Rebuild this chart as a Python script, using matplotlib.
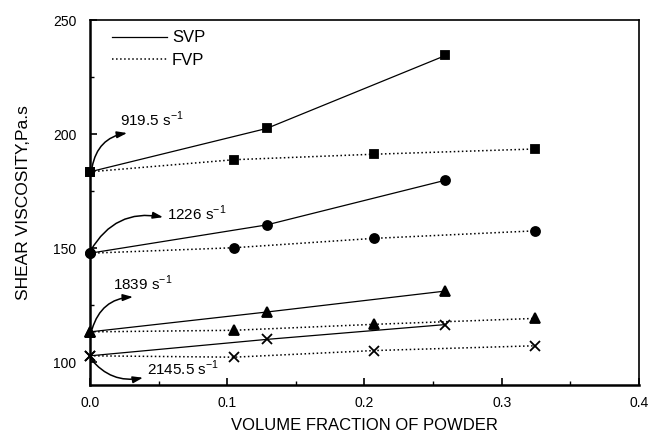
import matplotlib
matplotlib.use("Agg")
import matplotlib.pyplot as plt
from matplotlib.ticker import MultipleLocator
from matplotlib.lines import Line2D

plt.rcParams['font.family'] = ['Liberation Sans', 'DejaVu Sans']

# Data
x_svp = [0.0, 0.1287, 0.259]
x_fvp = [0.0, 0.105, 0.2067, 0.3242]

svp_919 = [183.5, 202.5, 234.5]
fvp_919 = [183.5, 188.8, 191.2, 193.5]
svp_1226 = [147.8, 160.2, 179.8]
fvp_1226 = [147.8, 150.2, 154.3, 157.6]
svp_1839 = [113.3, 122.0, 131.2]
fvp_1839 = [113.3, 114.0, 116.6, 119.2]
svp_2145 = [102.8, 110.0, 116.5]
fvp_2145 = [102.8, 102.2, 105.1, 107.2]

series = [
    (svp_919, fvp_919, 's', 5.8),
    (svp_1226, fvp_1226, 'o', 6.5),
    (svp_1839, fvp_1839, '^', 6.5),
    (svp_2145, fvp_2145, 'x', 7),
]

labels = ["919.5 s$^{\\mathregular{-1}}$", "1226 s$^{\\mathregular{-1}}$",
          "1839 s$^{\\mathregular{-1}}$", "2145.5 s$^{\\mathregular{-1}}$"]

fig = plt.figure(figsize=(6.5, 4.38), dpi=100)
ax = fig.add_axes([0.1385, 0.121, 0.983 - 0.1385, 0.954 - 0.121])

for i, (s, f, m, ms) in enumerate(series):
    ax.plot(x_svp, s, '-', color='black', lw=0.9, marker=m, ms=ms, mew=1.3,
            clip_on=False)
    ax.plot(x_fvp, f, ':', color='black', lw=1.1, marker=m, ms=ms, mew=1.3,
            clip_on=False)

handles = [Line2D([], [], color='black', lw=0.9, ls='-'),
           Line2D([], [], color='black', lw=1.1, ls=':')]
ax.legend(handles, ['SVP', 'FVP'], loc='upper left', frameon=False, fontsize=12,
          handlelength=3.3, handletextpad=0.3, borderaxespad=0.0,
          bbox_to_anchor=(0.028, 0.99), labelspacing=0.45)

ax.set_xlim(0, 0.4)
ax.set_ylim(90, 250)
ax.set_xticks([0, 0.1, 0.2, 0.3, 0.4])
ax.set_xticklabels(['0.0', '0.1', '0.2', '0.3', '0.4'])
ax.xaxis.set_minor_locator(MultipleLocator(0.05))
ax.yaxis.set_major_locator(MultipleLocator(50))
ax.yaxis.set_minor_locator(MultipleLocator(25))
ax.tick_params(axis='both', which='major', direction='in', length=5, width=1.2, labelsize=10)
ax.tick_params(axis='both', which='minor', direction='in', length=3, width=1.0)
ax.tick_params(axis='x', pad=8)
ax.tick_params(axis='y', pad=10)
for sp in ax.spines.values():
    sp.set_linewidth(1.2)
ax.spines['left'].set_linewidth(1.8)
ax.spines['bottom'].set_linewidth(1.8)

ax.set_xlabel('VOLUME FRACTION OF POWDER', fontsize=12, labelpad=6)
ax.set_ylabel('SHEAR VISCOSITY,Pa.s', fontsize=12.5, labelpad=16)

ap = dict(arrowstyle='-|>,head_length=0.6,head_width=0.2', color='black', lw=1.1,
          shrinkA=0, shrinkB=0)

# 919.5
ax.annotate('', xy=(0.027, 200.5), xytext=(0.0015, 185.5),
            arrowprops=dict(ap, connectionstyle='arc3,rad=-0.35'))
ax.text(0.0219, 203.5, labels[0], fontsize=11, va='baseline', ha='left')
# 1226
ax.annotate('', xy=(0.0532, 163.6), xytext=(0.0005, 149.0),
            arrowprops=dict(ap, connectionstyle='arc3,rad=-0.35'))
ax.text(0.0561, 162.3, labels[1], fontsize=11, va='baseline', ha='left')
# 1839
ax.annotate('', xy=(0.0313, 128.6), xytext=(0.0015, 114.5),
            arrowprops=dict(ap, connectionstyle='arc3,rad=-0.35'))
ax.text(0.0168, 131.6, labels[2], fontsize=11, va='baseline', ha='left')
# 2145.5
ax.annotate('', xy=(0.0386, 93.2), xytext=(0.0005, 101.5),
            arrowprops=dict(ap, connectionstyle='arc3,rad=0.3'))
ax.text(0.0415, 94.4, labels[3], fontsize=11, va='baseline', ha='left')

fig.savefig('out.png', dpi=100)
